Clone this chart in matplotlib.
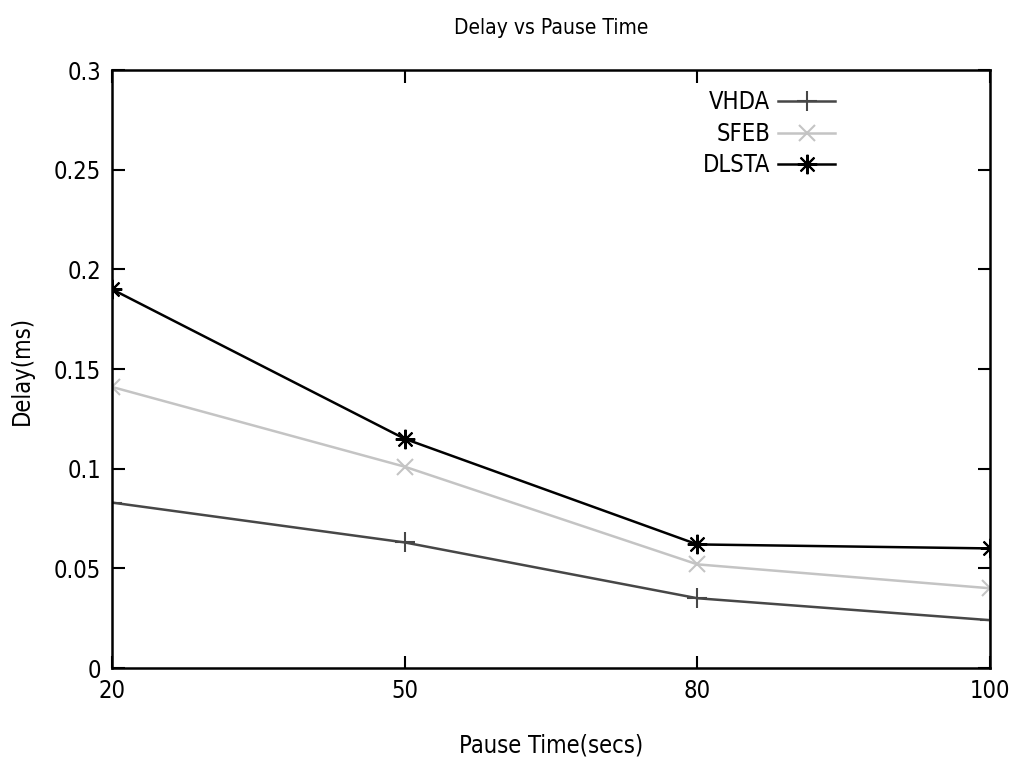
import numpy as np
import matplotlib.pyplot as plt

plt.rcParams['font.family'] = ['DejaVu Sans']
plt.rcParams['font.stretch'] = 'condensed'

# data
pause_time = ['20', '50', '80', '100']
vhda = [0.083, 0.063, 0.035, 0.024]
sfeb = [0.141, 0.101, 0.052, 0.040]
dlsta = [0.190, 0.115, 0.062, 0.060]

x = np.arange(len(pause_time))

fig = plt.figure(figsize=(10.13, 7.72), dpi=100)
ax = fig.add_axes([0.1106, 0.1347, 0.8667, 0.7746])

ax.plot(x, vhda, color='#474747', lw=1.8, marker='+', ms=14, mew=1.5, label='VHDA')
ax.plot(x, sfeb, color='#c4c4c4', lw=1.8, marker='x', ms=11, mew=1.5, label='SFEB')
ax.plot(x, dlsta, color='black', lw=1.8, marker=(8, 2, 0), ms=14, mew=1.5, label='DLSTA')

ax.set_xlim(0, len(pause_time) - 1)
ax.set_ylim(0, 0.3)
ax.set_xticks(x)
ax.set_xticklabels(pause_time)
ax.set_yticks([0, 0.05, 0.1, 0.15, 0.2, 0.25, 0.3])
ax.set_yticklabels(['0', '0.05', '0.1', '0.15', '0.2', '0.25', '0.3'])
ax.tick_params(direction='in', top=True, right=True, length=9, width=1.5,
               labelsize=17, pad=8)
for s in ax.spines.values():
    s.set_linewidth(1.8)

ax.set_title('Delay vs Pause Time', fontsize=15, pad=26)
ax.set_xlabel('Pause Time(secs)', fontsize=17, labelpad=22)
fig.text(0.022, 0.52, 'Delay(ms)', fontsize=17, rotation=90, ha='center', va='center')

ax.legend(loc='upper right', bbox_to_anchor=(0.8235, 0.966), frameon=False,
          markerfirst=False, fontsize=17, handlelength=2.4, handletextpad=0.35,
          labelspacing=0.32, borderpad=0, borderaxespad=0)

fig.savefig('out.png', dpi=100)
